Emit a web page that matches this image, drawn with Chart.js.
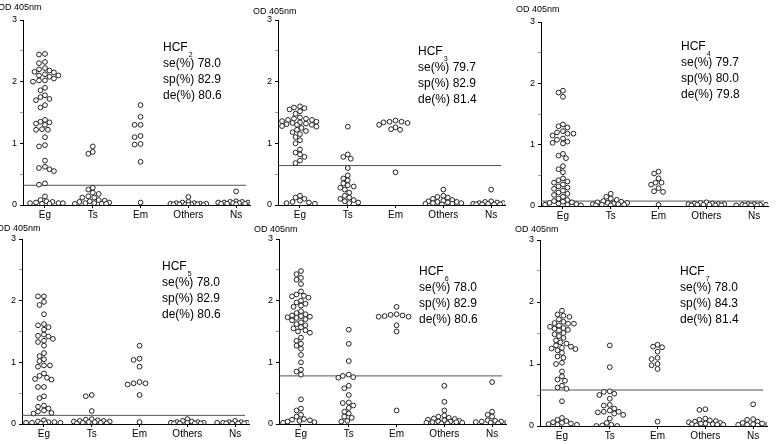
<!DOCTYPE html>
<html>
<head>
<meta charset="utf-8">
<script src="https://cdn.jsdelivr.net/npm/chart.js@4"></script>
<style>
  html, body { margin: 0; padding: 0; background: #fff; }
  body { width: 778px; height: 444px; position: relative; overflow: hidden; }
  canvas { position: absolute; }
</style>
</head>
<body>
<canvas id="p0" width="259" height="221"></canvas>
<canvas id="p1" width="259" height="221"></canvas>
<canvas id="p2" width="259" height="221"></canvas>
<canvas id="p3" width="259" height="221"></canvas>
<canvas id="p4" width="259" height="221"></canvas>
<canvas id="p5" width="259" height="221"></canvas>
<script>
// categorias del eje x
const categories = ['Eg', 'Ts', 'Em', 'Others', 'Ns'];
const yTicks = [0, 1, 2, 3];
const panelNames = ['2', '3', '4', '5', '6', '7'];
const cutoffs = [0.32, 0.64, 0.08, 0.14, 0.78, 0.58];
const se = ['78.0', '79.7', '79.7', '78.0', '78.0', '78.0'];
const sp = ['82.9', '82.9', '80.0', '82.9', '82.9', '84.3'];
const de = ['80.6', '81.4', '79.8', '80.6', '80.6', '81.4'];

// valores OD por grupo: Eg, Ts, Em, Others, Ns
const hcf2 = [
  [2.45, 2.44, 2.32, 2.30, 2.22, 2.20, 2.18, 2.16, 2.15, 2.12, 2.10, 2.10, 2.08, 2.05, 2.02, 2.02, 2.0, 1.90, 1.86, 1.78, 1.75, 1.72, 1.70, 1.62, 1.58, 1.38, 1.35, 1.34, 1.32, 1.30, 1.23, 1.22, 1.22, 1.10, 0.97, 0.95, 0.72, 0.62, 0.60, 0.58, 0.55, 0.35, 0.33, 0.14, 0.08, 0.06, 0.05, 0.04, 0.03, 0.03, 0.02, 0.02, 0.03],
  [0.95, 0.86, 0.83, 0.28, 0.25, 0.20, 0.18, 0.14, 0.12, 0.12, 0.08, 0.07, 0.06, 0.05, 0.04, 0.03, 0.03, 0.02, 0.02, 0.02],
  [1.62, 1.43, 1.30, 1.30, 1.12, 1.10, 0.99, 0.98, 0.70, 0.04],
  [0.13, 0.05, 0.04, 0.03, 0.03, 0.02, 0.02, 0.02, 0.01, 0.01, 0.01, 0.01, 0.01, 0.0, 0.0],
  [0.22, 0.06, 0.05, 0.05, 0.04, 0.04, 0.04, 0.03, 0.03, 0.03, 0.02, 0.02, 0.02, 0.02, 0.01]
];
const hcf3 = [
  [1.60, 1.58, 1.57, 1.55, 1.52, 1.48, 1.42, 1.40, 1.40, 1.38, 1.38, 1.36, 1.35, 1.34, 1.33, 1.32, 1.31, 1.30, 1.30, 1.28, 1.27, 1.25, 1.22, 1.20, 1.18, 1.15, 1.10, 1.05, 1.00, 0.90, 0.85, 0.82, 0.78, 0.72, 0.68, 0.15, 0.12, 0.10, 0.07, 0.05, 0.04, 0.03, 0.02],
  [1.27, 0.82, 0.78, 0.75, 0.60, 0.48, 0.43, 0.40, 0.35, 0.32, 0.30, 0.28, 0.25, 0.20, 0.15, 0.12, 0.10, 0.08, 0.06, 0.04, 0.03],
  [1.37, 1.35, 1.35, 1.34, 1.33, 1.30, 1.26, 1.23, 1.22, 0.53],
  [0.25, 0.15, 0.13, 0.12, 0.10, 0.08, 0.07, 0.06, 0.05, 0.05, 0.04, 0.03, 0.03, 0.02, 0.02, 0.01],
  [0.25, 0.06, 0.05, 0.04, 0.03, 0.03, 0.02, 0.02, 0.02, 0.01, 0.01, 0.01, 0.01]
];
const hcf4 = [
  [1.88, 1.85, 1.78, 1.33, 1.30, 1.28, 1.22, 1.20, 1.18, 1.18, 1.15, 1.10, 1.08, 1.05, 1.03, 1.02, 0.85, 0.82, 0.78, 0.65, 0.60, 0.55, 0.45, 0.42, 0.40, 0.38, 0.35, 0.32, 0.30, 0.28, 0.25, 0.22, 0.20, 0.18, 0.15, 0.12, 0.10, 0.08, 0.07, 0.06, 0.05, 0.04, 0.03, 0.02, 0.02, 0.01],
  [0.20, 0.15, 0.12, 0.10, 0.08, 0.07, 0.06, 0.05, 0.05, 0.04, 0.03, 0.03, 0.02, 0.02, 0.01, 0.01],
  [0.56, 0.53, 0.45, 0.38, 0.38, 0.35, 0.29, 0.24, 0.23, 0.02],
  [0.06, 0.05, 0.04, 0.04, 0.03, 0.03, 0.03, 0.02, 0.02, 0.02, 0.01, 0.01, 0.01],
  [0.03, 0.03, 0.02, 0.02, 0.02, 0.01, 0.01, 0.01, 0.01, 0.01]
];
const hcf5 = [
  [2.07, 2.07, 1.98, 1.93, 1.78, 1.62, 1.60, 1.57, 1.53, 1.45, 1.43, 1.42, 1.38, 1.35, 1.33, 1.27, 1.15, 1.10, 1.05, 1.02, 0.95, 0.95, 0.93, 0.82, 0.78, 0.75, 0.73, 0.72, 0.60, 0.60, 0.45, 0.42, 0.30, 0.28, 0.25, 0.22, 0.20, 0.18, 0.17, 0.06, 0.04, 0.03, 0.03, 0.02, 0.02, 0.02, 0.01, 0.01],
  [0.47, 0.45, 0.21, 0.08, 0.07, 0.06, 0.05, 0.05, 0.04, 0.04, 0.03, 0.03, 0.02, 0.02, 0.01, 0.01],
  [1.27, 1.06, 1.04, 0.93, 0.68, 0.66, 0.66, 0.64, 0.47, 0.03],
  [0.08, 0.05, 0.04, 0.03, 0.03, 0.02, 0.02, 0.02, 0.01, 0.01, 0.01, 0.01],
  [0.05, 0.03, 0.03, 0.02, 0.02, 0.02, 0.01, 0.01, 0.01, 0.01, 0.01]
];
const hcf6 = [
  [2.48, 2.43, 2.37, 2.34, 2.27, 2.15, 2.10, 2.08, 2.07, 2.05, 2.00, 1.97, 1.95, 1.92, 1.90, 1.83, 1.80, 1.78, 1.76, 1.75, 1.74, 1.73, 1.72, 1.70, 1.68, 1.65, 1.62, 1.60, 1.57, 1.55, 1.52, 1.50, 1.48, 1.40, 1.35, 1.30, 1.27, 1.22, 1.12, 1.00, 0.88, 0.85, 0.80, 0.40, 0.25, 0.22, 0.15, 0.12, 0.08, 0.07, 0.06, 0.05, 0.04, 0.03, 0.02],
  [1.53, 1.30, 1.02, 0.80, 0.78, 0.76, 0.75, 0.62, 0.58, 0.47, 0.35, 0.34, 0.30, 0.26, 0.20, 0.17, 0.12, 0.10, 0.05, 0.04],
  [1.90, 1.78, 1.77, 1.76, 1.75, 1.74, 1.74, 1.60, 1.50, 0.22],
  [0.62, 0.36, 0.22, 0.14, 0.12, 0.10, 0.09, 0.08, 0.07, 0.06, 0.05, 0.04, 0.04, 0.03, 0.03, 0.02, 0.02, 0.01, 0.01],
  [0.68, 0.20, 0.15, 0.12, 0.06, 0.05, 0.04, 0.04, 0.03, 0.03, 0.02, 0.01]
];
const hcf7 = [
  [1.86, 1.80, 1.78, 1.76, 1.72, 1.68, 1.66, 1.65, 1.65, 1.62, 1.60, 1.58, 1.57, 1.55, 1.54, 1.50, 1.48, 1.45, 1.42, 1.38, 1.35, 1.33, 1.30, 1.28, 1.26, 1.25, 1.24, 1.22, 1.18, 1.12, 1.10, 1.02, 1.00, 0.88, 0.80, 0.75, 0.73, 0.65, 0.62, 0.60, 0.40, 0.13, 0.10, 0.08, 0.06, 0.05, 0.04, 0.03, 0.02, 0.02],
  [1.30, 0.95, 0.56, 0.55, 0.52, 0.50, 0.44, 0.34, 0.33, 0.28, 0.25, 0.23, 0.23, 0.22, 0.20, 0.18, 0.12, 0.05, 0.02, 0.01, 0.0, 0.0],
  [1.31, 1.28, 1.27, 1.20, 1.10, 1.08, 1.00, 0.98, 0.92, 0.07],
  [0.27, 0.26, 0.12, 0.10, 0.09, 0.08, 0.07, 0.06, 0.05, 0.04, 0.04, 0.03, 0.03, 0.02, 0.02, 0.01],
  [0.35, 0.11, 0.10, 0.07, 0.05, 0.04, 0.03, 0.03, 0.02, 0.02, 0.01]
];
const panels = [hcf2, hcf3, hcf4, hcf5, hcf6, hcf7];

// donde va cada panel: borde del eje y, arriba (y=3) y abajo (y=0)
const layout = [
  { axis: 23, top: 20, bottom: 205, od: 8 },
  { axis: 278, top: 20, bottom: 205, od: 12 },
  { axis: 541, top: 22, bottom: 206, od: 10 },
  { axis: 22, top: 239, bottom: 424, od: 229 },
  { axis: 279, top: 239, bottom: 424, od: 230 },
  { axis: 540, top: 240, bottom: 426, od: 230 }
];

const X_MIN = 0.54, X_MAX = 5.29;
const Y_AXIS_W = 27, X_AXIS_H = 16, PLOT_W = 228;
const FONT = '"Liberation Sans", Arial, sans-serif';

// reparte los puntos tipo enjambre, sin pasar de +-18px del centro
function swarm(values, center, pxX, pxY) {
  const placed = [];
  const offs = [];
  for (let o = -18; o <= 18; o += 1.5) offs.push(o);
  offs.sort((a, b) => Math.abs(a) - Math.abs(b));
  values.slice().sort((a, b) => b - a).forEach(v => {
    const py = v * pxY;
    let best = offs[0], bestD = -1;
    for (const off of offs) {
      let d = Infinity;
      placed.forEach(p => { d = Math.min(d, Math.hypot(p.px - off, p.py - py)); });
      if (d >= 4.8) { best = off; bestD = d; break; }
      if (d > bestD) { bestD = d; best = off; }
    }
    placed.push({ px: best, py: py, v: v });
  });
  return placed.map(p => ({ x: center + p.px / pxX, y: p.v }));
}

const textPlugin = {
  id: 'texts',
  afterDraw(chart, args, opts) {
    const ctx = chart.ctx, a = chart.chartArea;
    ctx.save();
    ctx.fillStyle = '#000';
    ctx.textBaseline = 'middle';
    ctx.font = '9px ' + FONT;
    ctx.fillText('OD 405nm', a.left - 25, opts.odY);
    const tx = a.left + 140, ty = a.top + opts.dy;
    ctx.font = '12px ' + FONT;
    ctx.fillText('HCF', tx, ty);
    const w = ctx.measureText('HCF').width;
    ctx.font = '7px ' + FONT;
    ctx.fillText(opts.sub, tx + w + 1, ty + 7);
    ctx.font = '12px ' + FONT;
    ctx.fillText('se(%) ' + opts.se, tx, ty + 16);
    ctx.fillText('sp(%) ' + opts.sp, tx, ty + 32);
    ctx.fillText('de(%) ' + opts.de, tx, ty + 48);
    ctx.restore();
  }
};

const textOffsets = [28, 32, 25, 28, 33, 32];

panels.forEach((groups, i) => {
  const L = layout[i];
  const plotH = L.bottom - L.top;
  const canvas = document.getElementById('p' + i);
  const topPad = L.top >= 200 ? L.top - 219 : L.top;
  canvas.height = topPad + plotH + X_AXIS_H;
  canvas.style.left = (L.axis - Y_AXIS_W) + 'px';
  canvas.style.top = (L.top - topPad) + 'px';

  const pxX = PLOT_W / (X_MAX - X_MIN);
  const pxY = plotH / 3;
  let points = [];
  groups.forEach((vals, g) => { points = points.concat(swarm(vals, g + 1, pxX, pxY)); });

  new Chart(canvas.getContext('2d'), {
    type: 'scatter',
    data: {
      datasets: [{
        data: points,
        pointRadius: 2.4,
        pointBorderWidth: 1,
        borderColor: '#222',
        backgroundColor: '#fff',
        order: 1
      }, {
        type: 'line',
        data: [{ x: X_MIN, y: cutoffs[i] }, { x: X_MAX - 0.08, y: cutoffs[i] }],
        borderColor: '#555',
        borderWidth: 1,
        pointRadius: 0,
        order: 2
      }]
    },
    options: {
      responsive: false,
      animation: false,
      layout: { padding: { top: topPad, right: canvas.width - Y_AXIS_W - PLOT_W, left: 0, bottom: 0 } },
      plugins: {
        legend: { display: false },
        tooltip: { enabled: false },
        texts: { odY: L.od - (L.top - topPad), dy: textOffsets[i], sub: panelNames[i], se: se[i], sp: sp[i], de: de[i] }
      },
      scales: {
        x: {
          type: 'linear', min: X_MIN, max: X_MAX,
          afterFit: s => { s.height = X_AXIS_H; },
          afterBuildTicks: s => { s.ticks = categories.map((c, k) => ({ value: k + 1 })); },
          ticks: { callback: v => categories[v - 1], font: { size: 10, family: FONT }, color: '#000', padding: 1, maxRotation: 0, autoSkip: false },
          grid: { drawOnChartArea: false, tickLength: 3, color: '#000' },
          border: { color: '#000', width: 1 }
        },
        y: {
          min: 0, max: 3,
          afterFit: s => { s.width = Y_AXIS_W; },
          afterBuildTicks: s => { s.ticks = [0, 0.5, 1, 1.5, 2, 2.5, 3].map(v => ({ value: v })); },
          ticks: { callback: v => yTicks.includes(v) ? String(v) : '', font: { size: 9, family: FONT }, color: '#000', padding: 3 },
          grid: { drawOnChartArea: false, tickLength: 3, color: ctx => yTicks.includes(ctx.tick && ctx.tick.value) ? '#000' : '#999' },
          border: { color: '#000', width: 1 }
        }
      }
    },
    plugins: [textPlugin]
  });
});
</script>
</body>
</html>
